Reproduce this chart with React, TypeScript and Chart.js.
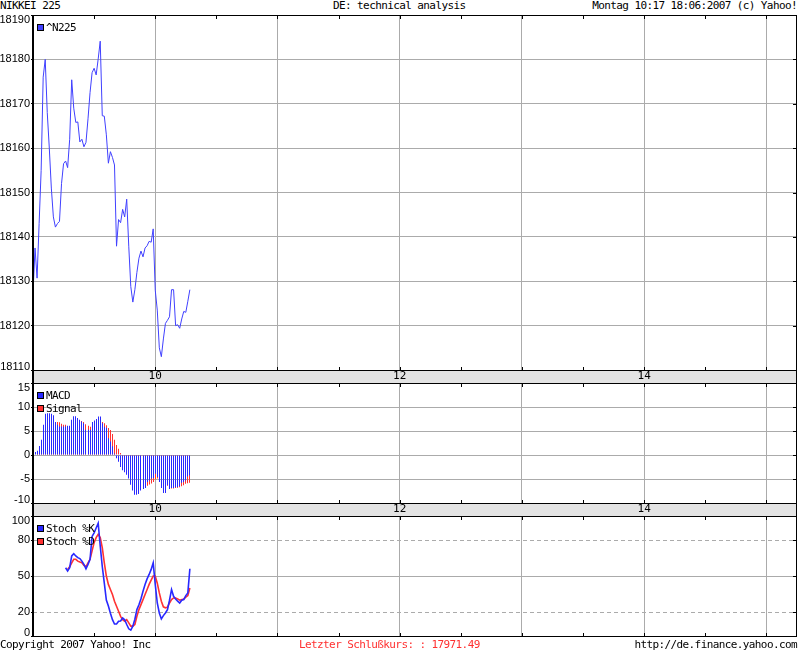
import React, { useEffect, useRef } from 'react';
import { Chart, registerables } from 'chart.js';

Chart.register(...registerables);

// ---------- data ----------
const START_HOUR = 9;
const X_MIN = 9;
const X_MAX = 15.25;
const hourTicks = [9, 10, 11, 12, 13, 14, 15];
const labeledHours = [10, 12, 14];

const headerLeft = 'NIKKEI 225';
const headerCenter = 'DE: technical analysis';
const headerRight = 'Montag 10:17 18:06:2007 (c) Yahoo!';
const footerLeft = 'Copyright 2007 Yahoo! Inc';
const footerCenter = 'Letzter Schlußkurs: : 17971.49';
const footerRight = 'http://de.finance.yahoo.com';

const priceLabel = '^N225';
const priceTicks = [18110, 18120, 18130, 18140, 18150, 18160, 18170, 18180, 18190];
// one value per minute from 09:00
const priceValues = [
  18127.4, 18137.5, 18130.7, 18143, 18155, 18176, 18180, 18168, 18160, 18151,
  18144.5, 18142.2, 18143, 18143.5, 18152, 18156.5, 18157.1, 18155.6, 18162, 18175.4,
  18169, 18165.8, 18165.9, 18161.4, 18162, 18160.3, 18161.3, 18166.6, 18172.5, 18177,
  18178, 18176.5, 18180.1, 18184.1, 18167.3, 18167.2, 18163, 18156.6, 18159.2, 18157.9,
  18156.2, 18137.9, 18143.9, 18143.2, 18146.2, 18144.5, 18148.5, 18137.9, 18128.8, 18125.3,
  18128.1, 18132, 18135.2, 18136.8, 18135.5, 18137.5, 18138, 18139, 18138.8, 18141.8,
  18128, 18123.5, 18115, 18113, 18117, 18120.5, 18121.2, 18122, 18128.1, 18128.1,
  18120, 18120.2, 18119.4, 18121.5, 18123.2, 18123, 18125.5, 18128.1,
];

const macdLabel = 'MACD';
const signalLabel = 'Signal';
const macdTicks = [-10, -5, 0, 5, 10, 15];
const macdValues = [
  null, 0.6, 0.9, 1.9, 3.2, 6.3, 8.6, 8.7, 8.7, 8.6,
  8.3, 6.9, 6.3, 5.95, 5.95, 5.95, 5.95, 6.1, 6.1, 7.35,
  8.05, 8.05, 7.7, 7.35, 7.0, 6.6, 5.25, 5.25, 5.25, 6.9,
  7.2, 7.5, 8.0, 8.0, 6.6, 5.9, 5.6, 3.5, 2.8, 1.8,
  0.3, -0.7, -1.4, -2.5, -3.2, -3.6, -4.1, -4.9, -6.2, -7.4,
  -8.3, -8.3, -8.1, -7.4, -7.1, -6.9, -5.6, -5.3, -4.9, -4.8,
  -3.9, -4.6, -5.6, -6.9, -7.9, -7.9, -6.3, -7.1, -6.9, -6.9,
  -6.7, -6.7, -6.5, -5.8, -5.6, -5.3, -4.5, -4.2,
];
const signalValues = [
  null, 0.1, 0.3, 0.6, 1.1, 2.1, 3.4, 4.4, 5.3, 6.0,
  6.5, 6.7, 6.9, 6.8, 6.5, 6.3, 6.3, 6.0, 6.0, 6.2,
  6.5, 6.8, 7.0, 7.1, 7.1, 6.9, 6.4, 6.1, 5.9, 6.0,
  6.2, 6.5, 6.8, 6.9, 6.9, 6.6, 6.2, 5.6, 5.2, 4.4,
  3.2, 2.1, 1.3, 0.4, -0.4, -1.1, -1.8, -2.5, -3.2, -3.9,
  -4.6, -5.2, -5.7, -6.1, -6.3, -6.45, -6.4, -6.15, -5.95, -5.6,
  -5.1, -4.9, -5.0, -5.3, -5.8, -6.2, -6.4, -6.6, -7.0, -7.0,
  -6.9, -6.8, -6.7, -6.5, -6.3, -6.0, -5.9, -5.8,
];

const stochKLabel = 'Stoch %K';
const stochDLabel = 'Stoch %D';
const stochTicks = [0, 20, 50, 80, 100];
const stochDashed = [20, 80];
const stochKStart = 16; // minute index of first %K value
const stochK = [
  56.9, 54.1, 56.9, 66.7, 68.6, 66.7, 65.3, 64.5, 62.4, 59.7,
  56, 59.7, 63.9, 83, 86, 90, 94, 75, 58, 44,
  30, 25, 19, 13.6, 10, 10, 12.3, 12.5, 15, 13.5,
  9.6, 6, 4.9, 8.2, 14, 22, 26, 31, 37.3, 43,
  47.6, 51.3, 55.5, 61, 43, 27.5, 19.2, 14.2, 17, 19.2,
  22, 29.8, 38.7, 33.1, 30.9, 29, 27.5, 29.8, 30.3, 33.7,
  35.9, 56,
];
const stochDStart = 17; // minute index of first %D value
const stochD = [
  55.5, 57.7, 61, 63.9, 63.9, 62.4, 61.6, 61, 58.8, 57.7,
  61, 63.9, 70.9, 77.8, 82, 84.8, 82, 73.7, 61, 50,
  43, 38.7, 34.6, 29, 24.8, 20.6, 16.4, 13.6, 12.3, 13.6,
  10.9, 8.2, 8.2, 9.6, 16.4, 22, 26.1, 30.3, 34.6, 38.7,
  43, 46.5, 50, 50, 44, 35.9, 29, 24.3, 23.5, 24,
  27.5, 30.3, 31.7, 31.7, 30.9, 29.8, 30.3, 30.9, 32.3, 33.7,
  40,
];

// ---------- styles ----------
const BLUE = 'rgb(40,40,255)';
const PRICE_BLUE = 'rgb(64,64,255)';
const RED = 'rgb(255,50,50)';
const GRID = '#ababab';
const STRIP = '#e3e3e3';
const STRIP_H = 13;
const MONO = '"DejaVu Sans Mono", monospace';
const Y_FONT = '11px "Liberation Sans", Arial, sans-serif';

const toPoints = (vals: (number | null)[], start: number) =>
  vals.map((v, i) => ({ x: START_HOUR + (start + i) / 60, y: v }));

function makeDecor(strip: boolean, dashed: number[], snapBars: boolean) {
  return {
    id: 'decor',
    beforeDraw(chart: any) {
      if (!strip) return;
      const { ctx, chartArea: a } = chart;
      ctx.save();
      ctx.fillStyle = STRIP;
      ctx.fillRect(a.left, a.bottom, a.right - a.left, STRIP_H);
      ctx.restore();
    },
    beforeDatasetsDraw(chart: any) {
      if (snapBars) {
        chart.getSortedVisibleDatasetMetas().forEach((meta: any) => {
          meta.data.forEach((el: any) => {
            el.x = Math.floor(el.x) + 0.5;
          });
        });
      }
      if (!dashed.length) return;
      const { ctx, chartArea: a, scales } = chart;
      ctx.save();
      ctx.strokeStyle = GRID;
      ctx.lineWidth = 1;
      ctx.setLineDash([4, 3]);
      dashed.forEach((v) => {
        const py = Math.round(scales.y.getPixelForValue(v)) + 0.5;
        ctx.beginPath();
        ctx.moveTo(a.left, py);
        ctx.lineTo(a.right, py);
        ctx.stroke();
      });
      ctx.restore();
    },
    afterDraw(chart: any) {
      const { ctx, chartArea: a, scales } = chart;
      const x = scales.x;
      const y = scales.y;
      const top = Math.round(a.top) + 0.5;
      const bottom = Math.round(a.bottom) + 0.5;
      const right = Math.round(a.right) - 0.5;
      ctx.save();
      ctx.strokeStyle = '#000';
      ctx.lineWidth = 1;
      ctx.beginPath();
      ctx.moveTo(a.left, top);
      ctx.lineTo(a.right, top);
      ctx.moveTo(a.left, bottom);
      ctx.lineTo(a.right, bottom);
      ctx.moveTo(right, a.top);
      ctx.lineTo(right, a.bottom);
      if (strip) {
        ctx.moveTo(a.left, bottom + STRIP_H);
        ctx.lineTo(a.right, bottom + STRIP_H);
        ctx.moveTo(right, bottom);
        ctx.lineTo(right, bottom + STRIP_H);
      }
      // half-hour tick marks on top and bottom edges
      for (let v = Math.ceil(x.min * 2) / 2; v <= x.max; v += 0.5) {
        if (v === x.min) continue;
        const px = Math.round(x.getPixelForValue(v)) + 0.5;
        ctx.moveTo(px, a.top);
        ctx.lineTo(px, a.top + 4);
        ctx.moveTo(px, a.bottom - 3);
        ctx.lineTo(px, a.bottom + 1);
      }
      // right-side tick marks
      y.ticks.forEach((t: any) => {
        const py = Math.round(y.getPixelForValue(t.value)) + 0.5;
        ctx.moveTo(a.right - 4, py);
        ctx.lineTo(a.right, py);
      });
      ctx.stroke();
      // thick left border
      ctx.fillStyle = '#000';
      ctx.fillRect(Math.round(a.left) - 1, Math.round(a.top), 2, Math.round(a.bottom - a.top) + (strip ? STRIP_H + 1 : 1));

      // y tick labels (from the scale's ticks), kept inside the plot's height
      ctx.font = Y_FONT;
      ctx.textAlign = 'right';
      ctx.textBaseline = 'middle';
      ctx.fillStyle = '#000';
      y.ticks.forEach((t: any) => {
        const py = y.getPixelForValue(t.value);
        const ly = Math.min(Math.max(py, a.top + 5), a.bottom - 3);
        ctx.fillText(String(t.value), a.left - 3, ly);
      });

      // legend
      ctx.font = `11px ${MONO}`;
      (ctx as any).letterSpacing = '-0.6px';
      ctx.textBaseline = 'middle';
      ctx.textAlign = 'left';
      chart.data.datasets.forEach((ds: any, k: number) => {
        const bx = Math.round(a.left) + 4;
        const by = Math.round(a.top) + 9 + k * 13;
        ctx.fillStyle = chart.config.type === 'bar' ? ds.backgroundColor : ds.borderColor;
        ctx.fillRect(bx, by, 7, 7);
        ctx.strokeStyle = '#000';
        ctx.strokeRect(bx + 0.5, by + 0.5, 6, 6);
        ctx.fillStyle = '#000';
        ctx.fillText(ds.label, bx + 9, by + 4);
      });
      ctx.restore();
    },
  };
}

function makeOptions(
  padTop: number,
  padBottom: number,
  yMin: number,
  yMax: number,
  yTicks: number[],
  xLabels: boolean,
  yGridColor: any = GRID
): any {
  return {
    responsive: false,
    animation: false,
    devicePixelRatio: 1,
    events: [],
    layout: { padding: { top: padTop, bottom: padBottom, left: 0, right: 3 } },
    plugins: { legend: { display: false }, tooltip: { enabled: false } },
    scales: {
      x: {
        type: 'linear',
        min: X_MIN,
        max: X_MAX,
        offset: false,
        afterBuildTicks: (s: any) => {
          s.ticks = hourTicks.map((v) => ({ value: v }));
        },
        afterFit: (s: any) => {
          s.height = xLabels ? STRIP_H : 0;
        },
        ticks: {
          display: xLabels,
          autoSkip: false,
          maxRotation: 0,
          padding: 0,
          color: '#000',
          font: { family: MONO, size: 11 },
          callback: (v: number) => (labeledHours.includes(v) ? String(v) : ''),
        },
        grid: { color: GRID, drawTicks: false, offset: false, lineWidth: 1 },
        border: { display: false },
      },
      y: {
        type: 'linear',
        min: yMin,
        max: yMax,
        afterBuildTicks: (s: any) => {
          s.ticks = yTicks.map((v) => ({ value: v }));
        },
        afterFit: (s: any) => {
          s.width = 33;
        },
        ticks: { display: false, autoSkip: false },
        grid: { color: yGridColor, drawTicks: true, tickLength: 2, tickColor: '#000', lineWidth: 1 },
        border: { display: false },
      },
    },
  };
}

function priceConfig(): any {
  return {
    type: 'line',
    data: {
      datasets: [
        {
          label: priceLabel,
          data: toPoints(priceValues, 0),
          borderColor: PRICE_BLUE,
          backgroundColor: PRICE_BLUE,
          borderWidth: 1,
          pointRadius: 0,
          tension: 0,
        },
      ],
    },
    options: makeOptions(15, 651 - 383, 18110, 18190, priceTicks, true),
    plugins: [makeDecor(true, [], false)],
  };
}

function macdConfig(): any {
  return {
    type: 'bar',
    data: {
      datasets: [
        {
          label: macdLabel,
          data: toPoints(macdValues, 0),
          backgroundColor: BLUE,
          barThickness: 1,
          inflateAmount: 0,
          borderWidth: 0,
          grouped: false,
          order: 0,
        },
        {
          label: signalLabel,
          data: toPoints(signalValues, 0),
          backgroundColor: RED,
          barThickness: 1,
          inflateAmount: 0,
          borderWidth: 0,
          grouped: false,
          order: 1,
        },
      ],
    },
    options: makeOptions(383, 651 - 516, -10, 15, macdTicks, true),
    plugins: [makeDecor(true, [], true)],
  };
}

function stochConfig(): any {
  return {
    type: 'line',
    data: {
      datasets: [
        {
          label: stochKLabel,
          data: toPoints(stochK, stochKStart),
          borderColor: BLUE,
          backgroundColor: BLUE,
          borderWidth: 1.6,
          pointRadius: 0,
          tension: 0,
          order: 0,
        },
        {
          label: stochDLabel,
          data: toPoints(stochD, stochDStart),
          borderColor: RED,
          backgroundColor: RED,
          borderWidth: 1.6,
          pointRadius: 0,
          tension: 0,
          order: 1,
        },
      ],
    },
    options: makeOptions(516, 651 - 636, 0, 100, stochTicks, false, (c: any) =>
      c.tick && stochDashed.includes(c.tick.value) ? 'rgba(0,0,0,0)' : GRID
    ),
    plugins: [makeDecor(false, stochDashed, false)],
  };
}

const textBase: React.CSSProperties = {
  position: 'absolute',
  fontFamily: MONO,
  fontSize: 11,
  letterSpacing: '-0.6px',
  lineHeight: '12px',
  whiteSpace: 'pre',
  color: '#000',
};

export default function App() {
  const r1 = useRef<HTMLCanvasElement>(null);
  const r2 = useRef<HTMLCanvasElement>(null);
  const r3 = useRef<HTMLCanvasElement>(null);

  useEffect(() => {
    const charts = [
      new Chart(r1.current!, priceConfig()),
      new Chart(r2.current!, macdConfig()),
      new Chart(r3.current!, stochConfig()),
    ];
    return () => charts.forEach((c) => c.destroy());
  }, []);

  const canvasStyle: React.CSSProperties = { position: 'absolute', left: 0, top: 0, width: 800, height: 651 };

  return (
    <div
      style={{
        position: 'absolute',
        left: 0,
        top: 0,
        width: 800,
        height: 651,
        background: '#fff',
        overflow: 'hidden',
      }}
    >
      <div style={{ ...textBase, left: 0, top: 0 }}>{headerLeft}</div>
      <div style={{ ...textBase, left: 333, top: 0 }}>{headerCenter}</div>
      <div style={{ ...textBase, right: 3, top: 0 }}>{headerRight}</div>
      <canvas ref={r1} width={800} height={651} style={canvasStyle} />
      <canvas ref={r2} width={800} height={651} style={canvasStyle} />
      <canvas ref={r3} width={800} height={651} style={canvasStyle} />
      <div style={{ ...textBase, left: 0, top: 639 }}>{footerLeft}</div>
      <div style={{ ...textBase, left: 299, top: 639, color: 'rgb(255,48,48)' }}>{footerCenter}</div>
      <div style={{ ...textBase, right: 3, top: 639 }}>{footerRight}</div>
    </div>
  );
}
